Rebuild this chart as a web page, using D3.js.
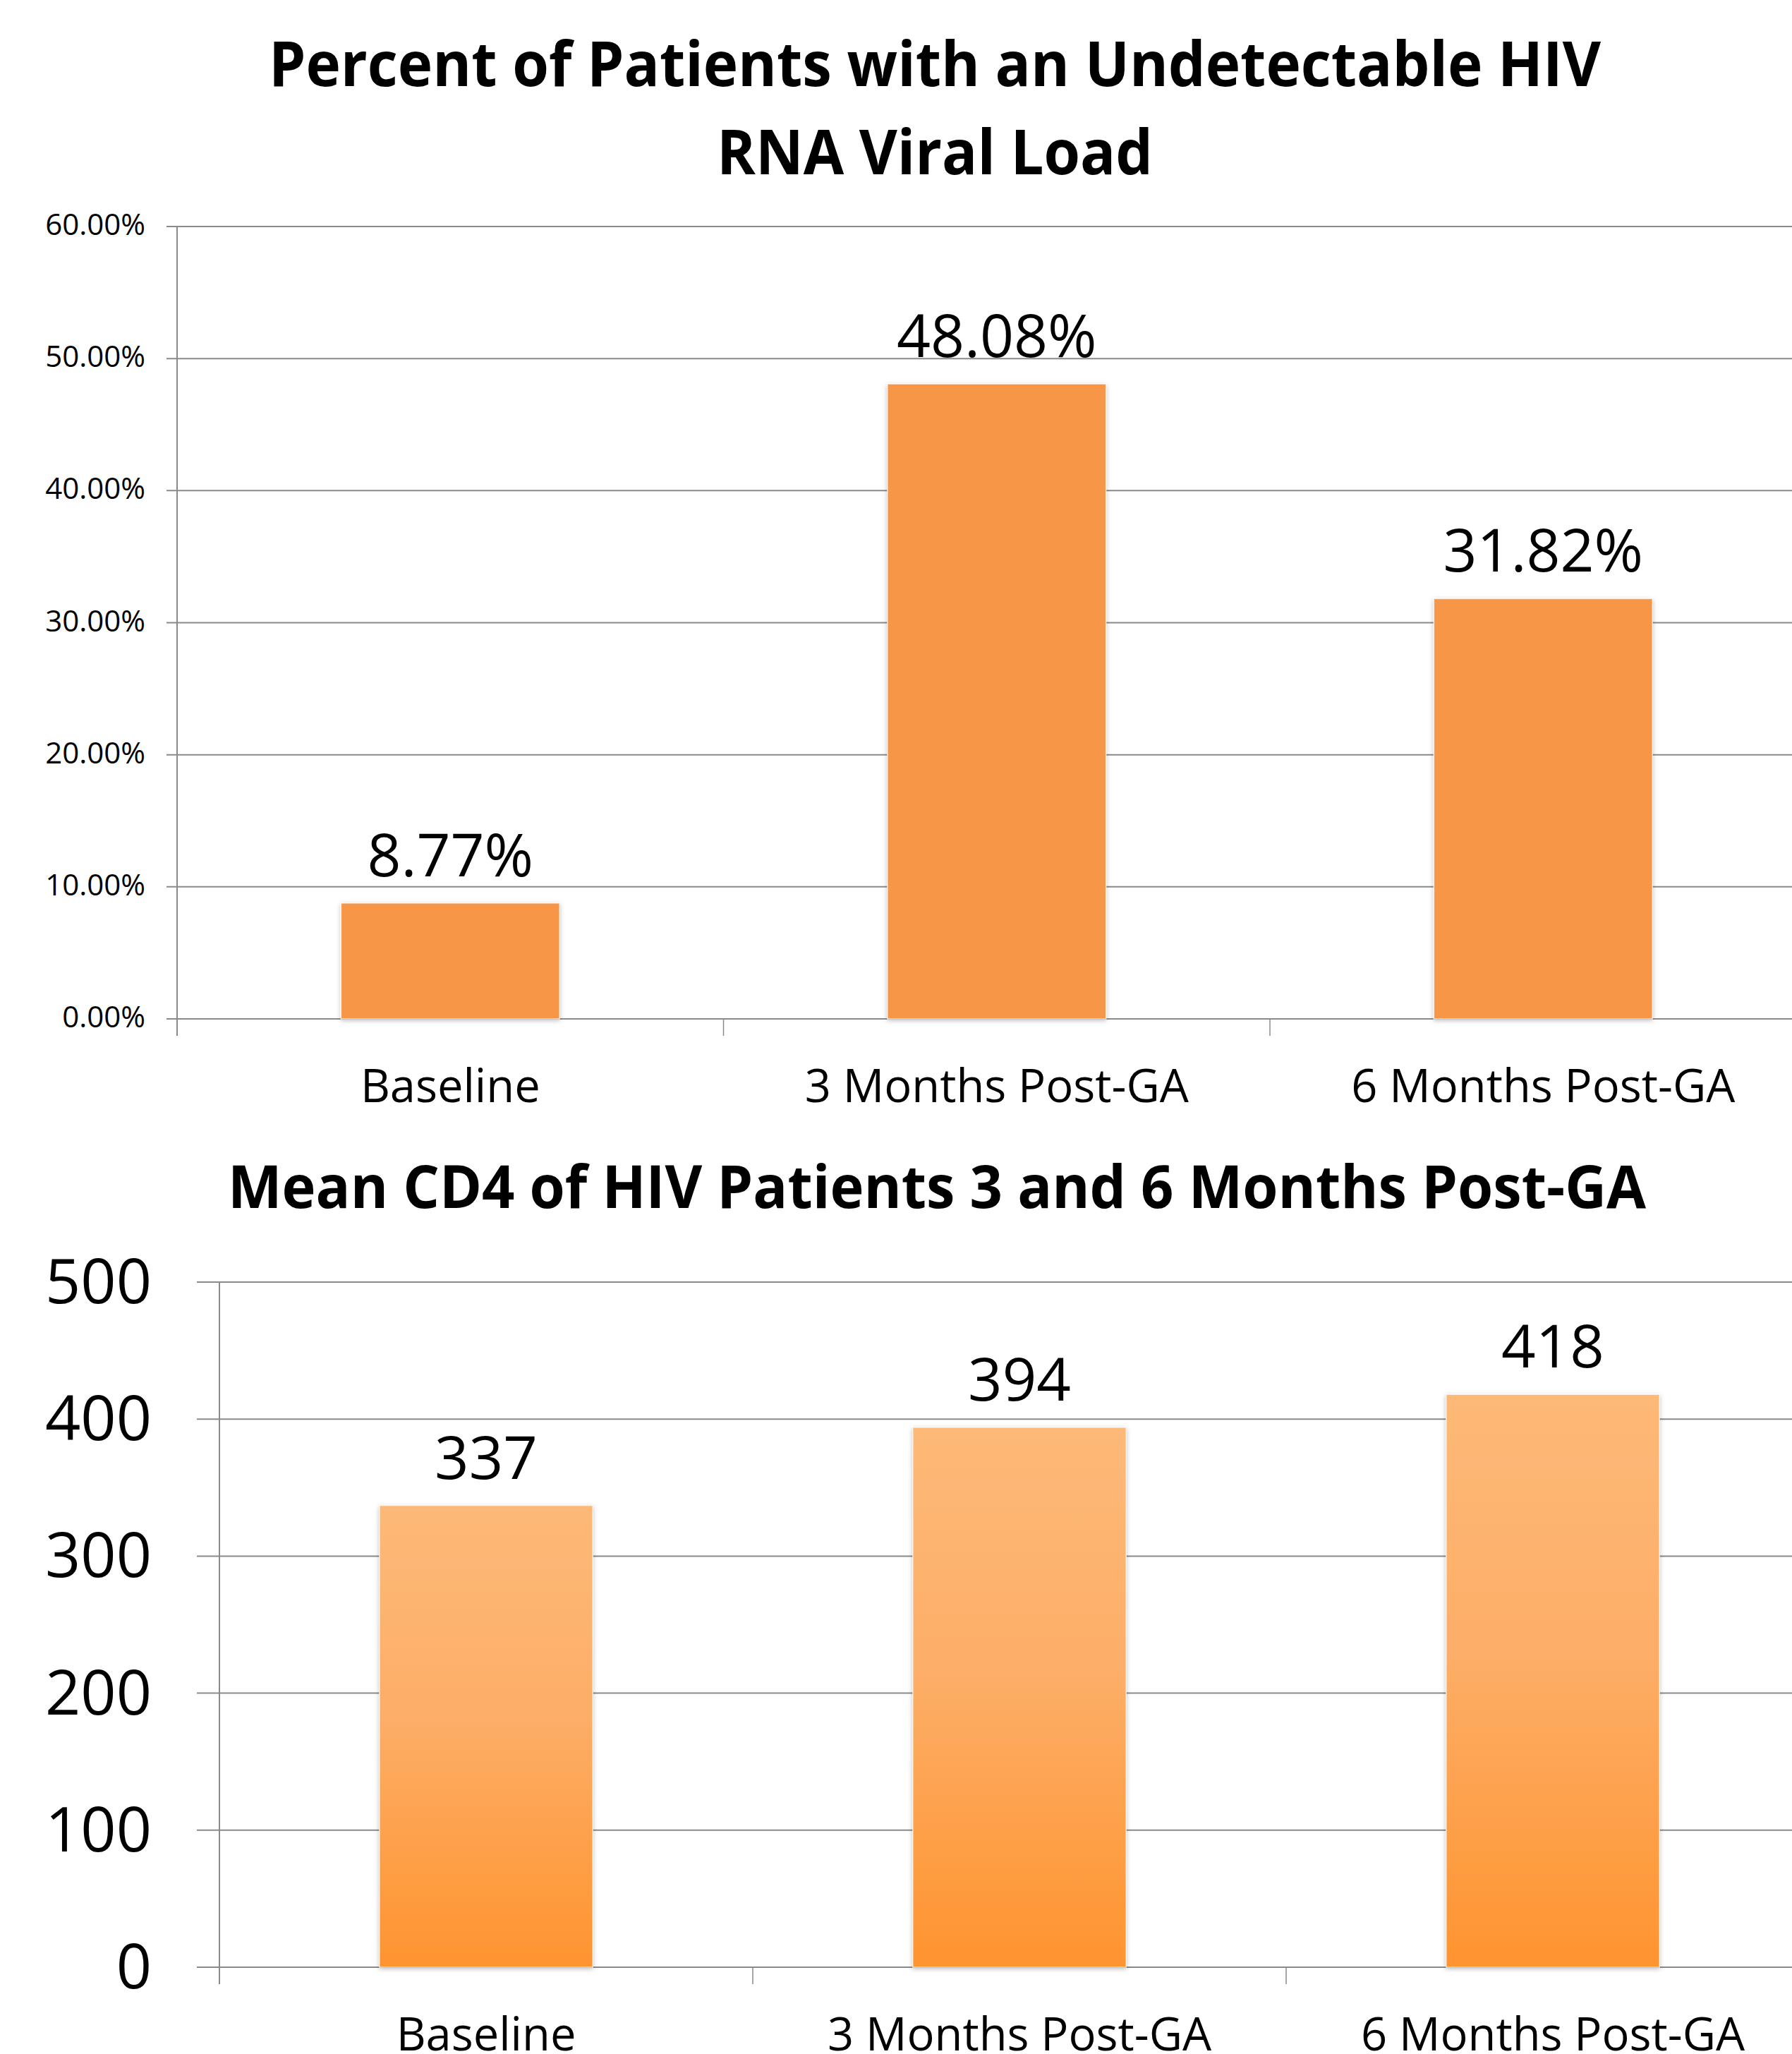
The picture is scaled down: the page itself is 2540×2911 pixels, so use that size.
<!DOCTYPE html>
<html>
<head>
<meta charset="utf-8">
<script src="https://cdn.jsdelivr.net/npm/d3@7"></script>
<style>
  html, body { margin: 0; padding: 0; background: #fff; }
  svg { display: block; }
  text { font-family: "Open Sans", "Noto Sans", sans-serif; fill: #000; }
</style>
</head>
<body>
<svg id="chart" width="2540" height="2911"></svg>
<script>
// ---- data ----
const categories = ["Baseline", "3 Months Post-GA", "6 Months Post-GA"];
const undetectablePct = [8.77, 48.08, 31.82];
const meanCD4 = [337, 394, 418];
const pctTicks = [0, 10, 20, 30, 40, 50, 60];
const cd4Ticks = [0, 100, 200, 300, 400, 500];
const title1Lines = ["Percent of Patients with an Undetectable HIV", "RNA Viral Load"];
const title2Lines = ["Mean CD4 of HIV Patients 3 and 6 Months Post-GA"];

const svg = d3.select("#chart");
const W = 2540;

const defs = svg.append("defs");
const grad = defs.append("linearGradient").attr("id", "cd4grad")
  .attr("x1", 0).attr("y1", 0).attr("x2", 0).attr("y2", 1);
grad.append("stop").attr("offset", "0%").attr("stop-color", "#FDB978");
grad.append("stop").attr("offset", "45%").attr("stop-color", "#FDAE68");
grad.append("stop").attr("offset", "100%").attr("stop-color", "#FE942F");
const sh = defs.append("filter").attr("id", "shadow")
  .attr("x", "-10%").attr("y", "-10%").attr("width", "120%").attr("height", "120%");
sh.append("feDropShadow").attr("dx", 0).attr("dy", 2).attr("stdDeviation", 3)
  .attr("flood-color", "#000").attr("flood-opacity", 0.25);

function drawChart(cfg) {
  const g = svg.append("g");
  const x = d3.scaleBand().domain(categories)
    .range([cfg.x0, cfg.x0 + cfg.step * categories.length])
    .paddingInner(0.6).paddingOuter(0.3).align(0.5);
  const y = d3.scaleLinear().domain([0, cfg.max]).range([cfg.yBottom, cfg.yTop]);

  // gridlines (extend slightly left of the axis as ticks)
  g.append("g").selectAll("line").data(cfg.ticks).join("line")
    .attr("x1", cfg.x0 - cfg.tickLen).attr("x2", W)
    .attr("y1", d => y(d)).attr("y2", d => y(d))
    .attr("stroke", "#8a8a8a").attr("stroke-width", 2);

  // y axis line
  g.append("line")
    .attr("x1", cfg.x0).attr("x2", cfg.x0)
    .attr("y1", y(cfg.max)).attr("y2", y(0) + 24)
    .attr("stroke", "#8a8a8a").attr("stroke-width", 2);

  // category boundary ticks
  const bounds = d3.range(1, categories.length).map(i => cfg.x0 + i * x.step());
  g.append("g").selectAll("line").data(bounds).join("line")
    .attr("x1", d => d).attr("x2", d => d)
    .attr("y1", y(0)).attr("y2", y(0) + 24)
    .attr("stroke", "#8a8a8a").attr("stroke-width", 1.5);

  // y tick labels
  g.append("g").selectAll("text").data(cfg.ticks).join("text")
    .attr("x", cfg.labelRight).attr("y", d => y(d) + cfg.tickDy)
    .attr("text-anchor", "end")
    .attr("font-size", cfg.tickFont)
    .text(cfg.tickFmt);

  // bars
  g.append("g").selectAll("rect").data(cfg.values).join("rect")
    .attr("x", (d, i) => x(categories[i]))
    .attr("width", x.bandwidth())
    .attr("y", d => y(d))
    .attr("height", d => y(0) - y(d))
    .attr("fill", cfg.fill)
    .attr("stroke", "rgba(255,255,255,0.7)").attr("stroke-width", 1.5)
    .attr("filter", "url(#shadow)");

  // value labels
  g.append("g").selectAll("text").data(cfg.values).join("text")
    .attr("x", (d, i) => x(categories[i]) + x.bandwidth() / 2)
    .attr("y", d => y(d) - 38)
    .attr("text-anchor", "middle")
    .attr("font-size", cfg.valueFont)
    .text(cfg.valueFmt);

  // x axis category labels
  const xAxis = d3.axisBottom(x).tickSize(0).tickPadding(0);
  const ax = g.append("g").attr("transform", `translate(0,${y(0) + cfg.catDy})`).call(xAxis);
  ax.select(".domain").remove();
  ax.selectAll("text").attr("font-size", cfg.catFont).attr("dy", 0)
    .attr("font-family", '"Open Sans", "Noto Sans", sans-serif').attr("fill", "#000");

  // titles
  g.append("g").selectAll("text").data(cfg.titleLines).join("text")
    .attr("x", cfg.titleX)
    .attr("y", (d, i) => cfg.titleY + i * cfg.titleLineH)
    .attr("text-anchor", "middle")
    .attr("font-weight", "bold")
    .attr("font-size", cfg.titleFont)
    .attr("textLength", (d, i) => cfg.titleWidths[i])
    .attr("lengthAdjust", "spacingAndGlyphs")
    .text(d => d);
}

drawChart({
  x0: 251, step: 774.5, yTop: 321, yBottom: 1444, max: 60,
  ticks: pctTicks, tickLen: 15, labelRight: 206, tickDy: 12, tickFont: 42,
  tickFmt: d => d.toFixed(2) + "%",
  values: undetectablePct, fill: "#F79646", valueFont: 84,
  valueFmt: d => d.toFixed(2) + "%",
  catDy: 118, catFont: 65,
  titleLines: title1Lines, titleX: 1325, titleY: 122, titleLineH: 125,
  titleFont: 88, titleWidths: [1888, 618]
});

drawChart({
  x0: 311, step: 756, yTop: 1817, yBottom: 2788, max: 500,
  ticks: cd4Ticks, tickLen: 32, labelRight: 215, tickDy: 30, tickFont: 88,
  tickFmt: d => String(d),
  values: meanCD4, fill: "url(#cd4grad)", valueFont: 85,
  valueFmt: d => String(d),
  catDy: 118, catFont: 65,
  titleLines: title2Lines, titleX: 1328, titleY: 1712, titleLineH: 0,
  titleFont: 84, titleWidths: [2010]
});
</script>
</body>
</html>
